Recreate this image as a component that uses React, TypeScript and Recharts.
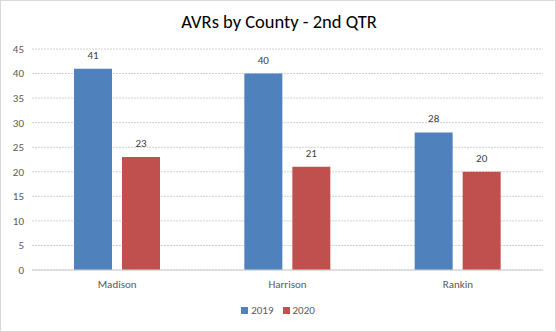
import React from "react";
import { BarChart, Bar, XAxis, YAxis, CartesianGrid, LabelList, Legend } from "recharts";

const counties = ["Madison", "Harrison", "Rankin"];
const values2019 = [41, 40, 28];
const values2020 = [23, 21, 20];
const yTicks = [0, 5, 10, 15, 20, 25, 30, 35, 40, 45];

const data = counties.map((c, i) => ({ county: c, y2019: values2019[i], y2020: values2020[i] }));

const FONT = "Calibri, Carlito, Lato, 'Open Sans', sans-serif";
const GRAY = "#595959";
const BLUE = "#4F81BD";
const RED = "#C0504D";

const LegendContent = () => (
  <div style={{ display: "flex", justifyContent: "center", alignItems: "center", fontFamily: FONT, fontSize: 11, color: GRAY }}>
    <span style={{ display: "inline-block", width: 7, height: 7, background: BLUE, marginRight: 3 }} />
    <span style={{ marginRight: 9 }}>2019</span>
    <span style={{ display: "inline-block", width: 7, height: 7, background: RED, marginRight: 3 }} />
    <span>2020</span>
  </div>
);

export default function App() {
  return (
    <div style={{ position: "absolute", left: 0, top: 0, width: 556, height: 332, boxSizing: "border-box", border: "1px solid #d9d9d9", background: "#fff" }}>
      <div style={{ position: "absolute", left: 0, top: 9, width: 556, textAlign: "center", fontFamily: FONT, fontSize: 18.5, color: "#000" }}>
        AVRs by County - 2nd QTR
      </div>
      <div style={{ position: "absolute", left: -1, top: -1 }}>
        <BarChart width={556} height={332} data={data} margin={{ top: 49, right: 13, bottom: 6, left: 1 }} barSize={38} barGap={10}>
          <CartesianGrid vertical={false} stroke="#d0d0d0" strokeDasharray="2 1" />
          <XAxis dataKey="county" axisLine={{ stroke: "#d0d0d0" }} tickLine={false} height={30} tick={{ fontFamily: FONT, fontSize: 11, fill: GRAY }} tickMargin={4} />
          <YAxis domain={[0, 45]} ticks={yTicks} width={31} axisLine={false} tickLine={false} tick={{ fontFamily: FONT, fontSize: 11, fill: GRAY }} tickSize={0} tickMargin={8} interval={0} />
          <Legend verticalAlign="bottom" height={26} content={<LegendContent />} wrapperStyle={{ top: 304, left: 0, width: 556 }} />
          <Bar dataKey="y2019" fill={BLUE} isAnimationActive={false}>
            <LabelList dataKey="y2019" position="top" offset={10} style={{ fontFamily: FONT, fontSize: 11, fill: "#404040" }} />
          </Bar>
          <Bar dataKey="y2020" fill={RED} isAnimationActive={false}>
            <LabelList dataKey="y2020" position="top" offset={10} style={{ fontFamily: FONT, fontSize: 11, fill: "#404040" }} />
          </Bar>
        </BarChart>
      </div>
    </div>
  );
}
